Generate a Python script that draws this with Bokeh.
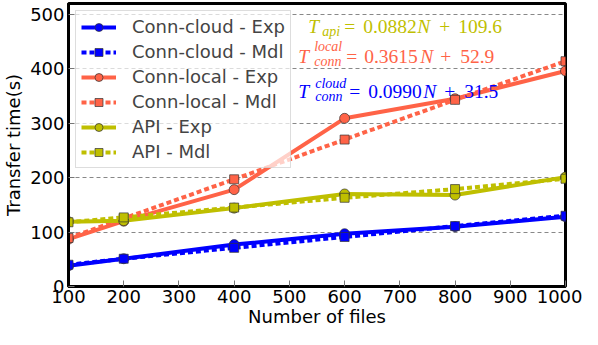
from bokeh.plotting import figure
from bokeh.models import Legend, LegendItem, Label, FixedTicker, Range1d
from bokeh.embed import file_html
from bokeh.resources import INLINE

# ---- data ----
n_files = [100, 200, 400, 600, 800, 1000]
cloud_exp = [38, 51, 77, 97, 110, 128]
cloud_mdl = [40, 51, 71, 91, 111, 130]
local_exp = [87, 120, 178, 309, 345, 396]
local_mdl = [89, 125, 197, 270, 343, 414]
api_exp = [119, 121, 144, 170, 168, 201]
api_mdl = [118, 127, 145, 163, 179, 198]

x_ticks = [100, 200, 300, 400, 500, 600, 700, 800, 900, 1000]
y_ticks = [0, 100, 200, 300, 400, 500]

BLUE = "#0000FF"
RED = "#FF6347"
OLIVE = "#BFBF00"
SANS = "DejaVu Sans"
SERIF = "Liberation Serif"

p = figure(width=582, height=329, output_backend="svg", toolbar_location=None,
           x_range=Range1d(100, 1000), y_range=Range1d(0, 520),
           min_border_left=55, min_border_right=17, min_border_top=3, min_border_bottom=40)

p.outline_line_color = "black"
p.outline_line_width = 3
p.outline_line_alpha = 1.0

p.xgrid.visible = False
p.ygrid.grid_line_color = "#888888"
p.ygrid.grid_line_dash = "4 3"
p.ygrid.grid_line_width = 1
p.ygrid.ticker = FixedTicker(ticks=y_ticks)

for ax in (p.xaxis[0], p.yaxis[0]):
    ax.axis_line_color = "black"
    ax.axis_line_width = 3
    ax.major_tick_in = 6
    ax.major_tick_out = 0
    ax.minor_tick_line_color = None
    ax.major_tick_line_color = "#777777"
    ax.major_label_text_font = SANS
    ax.major_label_text_font_size = "18px"
    ax.major_label_text_color = "black"
    ax.axis_label_text_font = SANS
    ax.axis_label_text_font_size = "18px"
    ax.axis_label_text_font_style = "normal"
    ax.axis_label_text_color = "black"

p.xaxis[0].ticker = FixedTicker(ticks=x_ticks)
p.yaxis[0].ticker = FixedTicker(ticks=y_ticks)
p.xaxis[0].axis_label = "Number of files"
p.yaxis[0].axis_label = "Transfer time(s)"
p.xaxis[0].major_label_standoff = 3
p.xaxis[0].axis_label_standoff = 0
p.yaxis[0].major_label_standoff = 4
p.yaxis[0].axis_label_standoff = 3

series = [
    ("Conn-cloud", BLUE, cloud_exp, cloud_mdl),
    ("Conn-local", RED, local_exp, local_mdl),
    ("API", OLIVE, api_exp, api_mdl),
]

items = []
for name, col, exp, mdl in series:
    l1 = p.line(n_files, exp, line_color=col, line_width=4)
    s1 = p.scatter(n_files, exp, marker="circle", size=10, fill_color=col,
                   line_color="#333333", line_width=0.7)
    l2 = p.line(n_files, mdl, line_color=col, line_width=4, line_dash="5 3")
    s2 = p.scatter(n_files, mdl, marker="square", size=9, fill_color=col,
                   line_color="#333333", line_width=0.7)
    items.append(LegendItem(label=f"{name} - Exp", renderers=[l1, s1]))
    items.append(LegendItem(label=f"{name} - Mdl", renderers=[l2, s2]))

legend = Legend(items=items, location="top_left",
                label_text_font=SANS, label_text_font_size="18px",
                glyph_width=35, glyph_height=20, label_height=20, label_standoff=16,
                spacing=4, padding=5, margin=7,
                border_line_color="#bbbbbb", border_line_width=1,
                background_fill_color="white", background_fill_alpha=0.7)
p.add_layout(legend, "center")

# ---- equations ----
def eq(x, y, col, pieces):
    for txt, dx, dy, size, style in pieces:
        p.add_layout(Label(x=x, y=y, x_offset=dx, y_offset=dy, text=txt,
                           text_font=SERIF, text_font_size=f"{size}px",
                           text_font_style=style, text_color=col,
                           text_baseline="alphabetic", text_align="left"))

M = 19.5
S = 14
eq(534, 478, OLIVE, [
    ("T", 0, 0, M, "italic"), ("api", 14, -5, S, "italic"),
    ("=", 36, 0, M, "normal"), ("0.0882", 55, 0, M, "normal"),
    ("N", 109, 0, M, "italic"), ("+", 131, 0, M, "normal"),
    ("109.6", 150, 0, M, "normal")])
eq(516, 422, RED, [
    ("T", 0, 0, M, "italic"), ("local", 16, 10, S, "italic"),
    ("conn", 16, -5, S, "italic"),
    ("=", 48, 0, M, "normal"), ("0.3615", 66, 0, M, "normal"),
    ("N", 122, 0, M, "italic"), ("+", 142, 0, M, "normal"),
    ("52.9", 162, 0, M, "normal")])
eq(516, 358, BLUE, [
    ("T", 0, 0, M, "italic"), ("cloud", 17, 8, S, "italic"),
    ("conn", 17, -5, S, "italic"),
    ("=", 51, 0, M, "normal"), ("0.0990", 70, 0, M, "normal"),
    ("N", 125, 0, M, "italic"), ("+", 146, 0, M, "normal"),
    ("31.5", 166, 0, M, "normal")])

open("out.html", "w").write(file_html(p, INLINE))
